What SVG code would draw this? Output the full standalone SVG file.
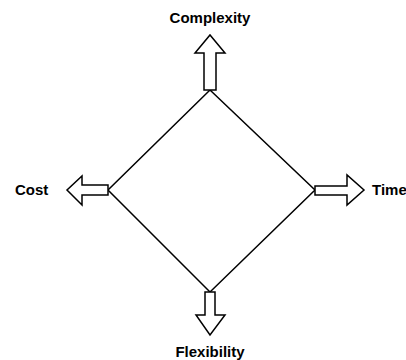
<svg xmlns="http://www.w3.org/2000/svg" width="406" height="360" viewBox="0 0 406 360">
<style>
.arrow{fill:#fff;stroke:#000;stroke-width:1.5;stroke-linejoin:miter}
.edge{fill:none;stroke:#000;stroke-width:1.5}
.lbl{font-family:"Liberation Sans",Arial,sans-serif;font-weight:bold;font-size:15px;fill:#000}
</style>
<rect width="406" height="360" fill="#fff"/>
<g id="connectors">
<path class="edge" d="M210,90 L315,190 L210,292 L108,190 Z"/>
</g>
<g id="complexity">
<path class="arrow" d="M204,90 L204,53 L195,53 L210,35 L225,53 L216,53 L216,90 Z"/>
<text class="lbl" x="210" y="23" text-anchor="middle">Complexity</text>
</g>
<g id="cost">
<path class="arrow" d="M108,185 L82,185 L82,176 L67,190 L82,205 L82,195 L108,195 Z"/>
<text class="lbl" x="15" y="195">Cost</text>
</g>
<g id="time">
<path class="arrow" d="M315,186 L347,186 L347,175 L364,190 L347,205 L347,195 L315,195 Z"/>
<text class="lbl" x="372" y="195">Time</text>
</g>
<g id="flexibility">
<path class="arrow" d="M205,292 L205,315 L196,315 L210,335 L225,315 L215,315 L215,292 Z"/>
<text class="lbl" x="210" y="357" text-anchor="middle">Flexibility</text>
</g>
</svg>
